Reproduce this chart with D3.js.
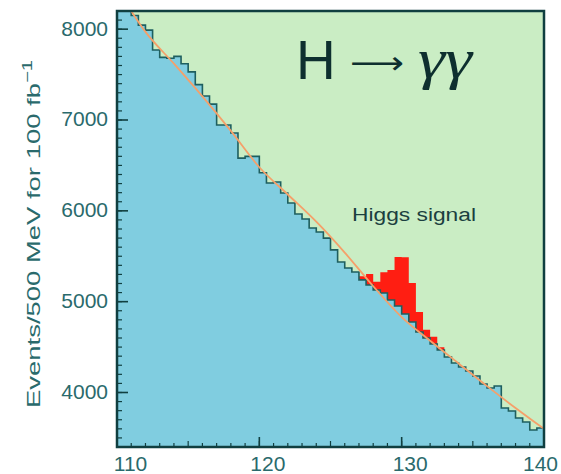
<!DOCTYPE html>
<html>
<head>
<meta charset="utf-8">
<script src="https://cdn.jsdelivr.net/npm/d3@7"></script>
<style>
  body { margin: 0; background: #fff; }
</style>
</head>
<body>
<div id="chart"></div>
<script>
// 500 MeV bins from 110 to 140 GeV
const binLow = d3.range(110, 140, 0.5);

// background events per bin
const background = [
  8300, 8250, 8150, 8045, 7990, 7770, 7690, 7680, 7700, 7620,
  7530, 7390, 7265, 7175, 6945, 6945, 6857, 6580, 6600, 6600,
  6420, 6307, 6318, 6197, 6087, 5965, 5910, 5811, 5767, 5700,
  5570, 5437, 5370, 5327, 5240, 5184, 5128, 5095, 5018, 4952,
  4864, 4776, 4666, 4600, 4534, 4468, 4391, 4325, 4281, 4237,
  4182, 4094, 4050, 4072, 3830, 3796, 3720, 3675, 3587, 3609
];

// Higgs signal on top of background
const signal = [
  0, 0, 0, 0, 0, 0, 0, 0, 0, 0,
  0, 0, 0, 0, 0, 0, 0, 0, 0, 0,
  0, 0, 0, 0, 0, 0, 0, 0, 0, 0,
  0, 0, 0, 0, 40, 120, 90, 230, 330, 540,
  626, 430, 220, 90, 80, 30, 0, 0, 0, 0,
  0, 0, 0, 0, 0, 0, 0, 0, 0, 0
];

// smooth background fit
const fitX = [110, 112, 114, 116, 118, 120, 122, 124, 126, 128, 130, 132, 134, 136, 138, 140];
const fitY = [8450, 7970, 7620, 7260, 6880, 6480, 6180, 5880, 5540, 5170, 4830, 4570, 4320, 4070, 3830, 3600];

const xTicks = [110, 120, 130, 140];
const yTicks = [4000, 5000, 6000, 7000, 8000];

const width = 561, height = 474;
const mLeft = 117, mRight = 544, mTop = 11, mBottom = 447;

const svg = d3.select("#chart")
  .append("svg")
    .attr("width", width)
    .attr("height", height)
    .attr("font-family", "'Liberation Sans', Arial, sans-serif");

const x = d3.scaleLinear().domain([110, 140]).range([mLeft, mRight]);
const y = d3.scaleLinear().domain([3400, 8200]).range([mBottom, mTop]);

svg.append("clipPath").attr("id", "plot")
  .append("rect")
    .attr("x", mLeft).attr("y", mTop)
    .attr("width", mRight - mLeft).attr("height", mBottom - mTop);

const plot = svg.append("g").attr("clip-path", "url(#plot)");

// green background of the frame
plot.append("rect")
  .attr("x", mLeft).attr("y", mTop)
  .attr("width", mRight - mLeft).attr("height", mBottom - mTop)
  .attr("fill", "#caedc4");

// step data: each bin as [edge, value], plus closing edge
function steps(vals) {
  let pts = binLow.map((b, i) => [b, vals[i]]);
  pts.push([140, vals[vals.length - 1]]);
  return pts;
}

const total = background.map((b, i) => b + signal[i]);

const stepArea = d3.area()
  .x(d => x(d[0]))
  .y0(y(3400))
  .y1(d => y(d[1]))
  .curve(d3.curveStepAfter);

const stepLine = d3.line()
  .x(d => x(d[0]))
  .y(d => y(d[1]))
  .curve(d3.curveStepAfter);

// red signal = total histogram, then background drawn over it
plot.append("path")
  .attr("d", stepArea(steps(total)))
  .attr("fill", "#ff1e12");

plot.append("path")
  .attr("d", stepArea(steps(background)))
  .attr("fill", "#80cde0");

plot.append("path")
  .attr("d", stepLine(steps(background)))
  .attr("fill", "none")
  .attr("stroke", "#1e5f5f")
  .attr("stroke-width", 1.6);

// fit line
const fitLine = d3.line()
  .x((d, i) => x(fitX[i]))
  .y(d => y(d))
  .curve(d3.curveMonotoneX);

plot.append("path")
  .attr("d", fitLine(fitY))
  .attr("fill", "none")
  .attr("stroke", "#f5a06a")
  .attr("stroke-width", 1.8);

// axes: ticks pointing inward
const axisColor = "#103f40";
const textColor = "#2a6a6c";

const xAxis = svg.append("g").attr("transform", `translate(0,${mBottom})`)
  .call(d3.axisBottom(x).tickValues(xTicks).tickSize(0).tickPadding(9).tickFormat(d3.format("d")));
xAxis.select(".domain").remove();
xAxis.selectAll("text")
  .attr("font-size", 21)
  .attr("fill", textColor)
  .attr("dx", (d, i) => i === 0 ? 13 : (i === xTicks.length - 1 ? -4 : 8));

const yAxis = svg.append("g").attr("transform", `translate(${mLeft},0)`)
  .call(d3.axisLeft(y).tickValues(yTicks).tickSize(0).tickPadding(9).tickFormat(d3.format("d")));
yAxis.select(".domain").remove();
yAxis.selectAll("text")
  .attr("font-size", 21)
  .attr("fill", textColor)
  .attr("dy", "0.28em");

// minor and major tick marks
const xMinor = d3.range(111, 140, 1);
svg.append("g").selectAll("line").data(xMinor).enter()
  .append("line")
    .attr("x1", d => x(d)).attr("x2", d => x(d))
    .attr("y1", mBottom).attr("y2", d => mBottom - (d % 5 === 0 ? 6 : 4))
    .attr("stroke", axisColor).attr("stroke-width", 1.2);
svg.append("g").selectAll("line").data(xTicks).enter()
  .append("line")
    .attr("x1", d => x(d)).attr("x2", d => x(d))
    .attr("y1", mBottom).attr("y2", mBottom - 10)
    .attr("stroke", axisColor).attr("stroke-width", 1.6);

const yMinor = d3.range(3500, 8200, 100);
svg.append("g").selectAll("line").data(yMinor).enter()
  .append("line")
    .attr("x1", mLeft).attr("x2", mLeft + 5)
    .attr("y1", d => y(d)).attr("y2", d => y(d))
    .attr("stroke", axisColor).attr("stroke-width", 1.2);
svg.append("g").selectAll("line").data(yTicks).enter()
  .append("line")
    .attr("x1", mLeft).attr("x2", mLeft + 11)
    .attr("y1", d => y(d)).attr("y2", d => y(d))
    .attr("stroke", axisColor).attr("stroke-width", 1.6);

// frame
svg.append("rect")
  .attr("x", mLeft).attr("y", mTop)
  .attr("width", mRight - mLeft).attr("height", mBottom - mTop)
  .attr("fill", "none")
  .attr("stroke", axisColor)
  .attr("stroke-width", 2.5);

// y label
svg.append("text")
  .attr("transform", `translate(40,${(mTop + mBottom) / 2 + 5}) rotate(-90)`)
  .attr("text-anchor", "middle")
  .attr("font-size", 19)
  .attr("fill", textColor)
  .attr("textLength", 348)
  .attr("lengthAdjust", "spacingAndGlyphs")
  .text("Events/500 MeV for 100 fb")
  .append("tspan")
    .attr("dy", -8)
    .attr("font-size", 14)
    .text("−1");

// title: H -> gamma gamma
const title = svg.append("g").attr("fill", "#0e2f2f");
title.append("text")
  .attr("x", 296).attr("y", 79)
  .attr("font-size", 55)
  .text("H");
title.append("text")
  .attr("x", 350).attr("y", 74)
  .attr("font-family", "'DejaVu Sans', sans-serif")
  .attr("font-size", 32)
  .attr("textLength", 54)
  .attr("lengthAdjust", "spacingAndGlyphs")
  .text("⟶");
title.append("text")
  .attr("x", 418).attr("y", 78)
  .attr("font-family", "'Liberation Serif', serif")
  .attr("font-style", "italic")
  .attr("font-size", 56)
  .attr("textLength", 54)
  .attr("lengthAdjust", "spacingAndGlyphs")
  .text("γγ");

svg.append("text")
  .attr("x", 352).attr("y", 221)
  .attr("font-size", 18)
  .attr("fill", "#1b3f3f")
  .attr("textLength", 124)
  .attr("lengthAdjust", "spacingAndGlyphs")
  .text("Higgs  signal");
</script>
</body>
</html>
